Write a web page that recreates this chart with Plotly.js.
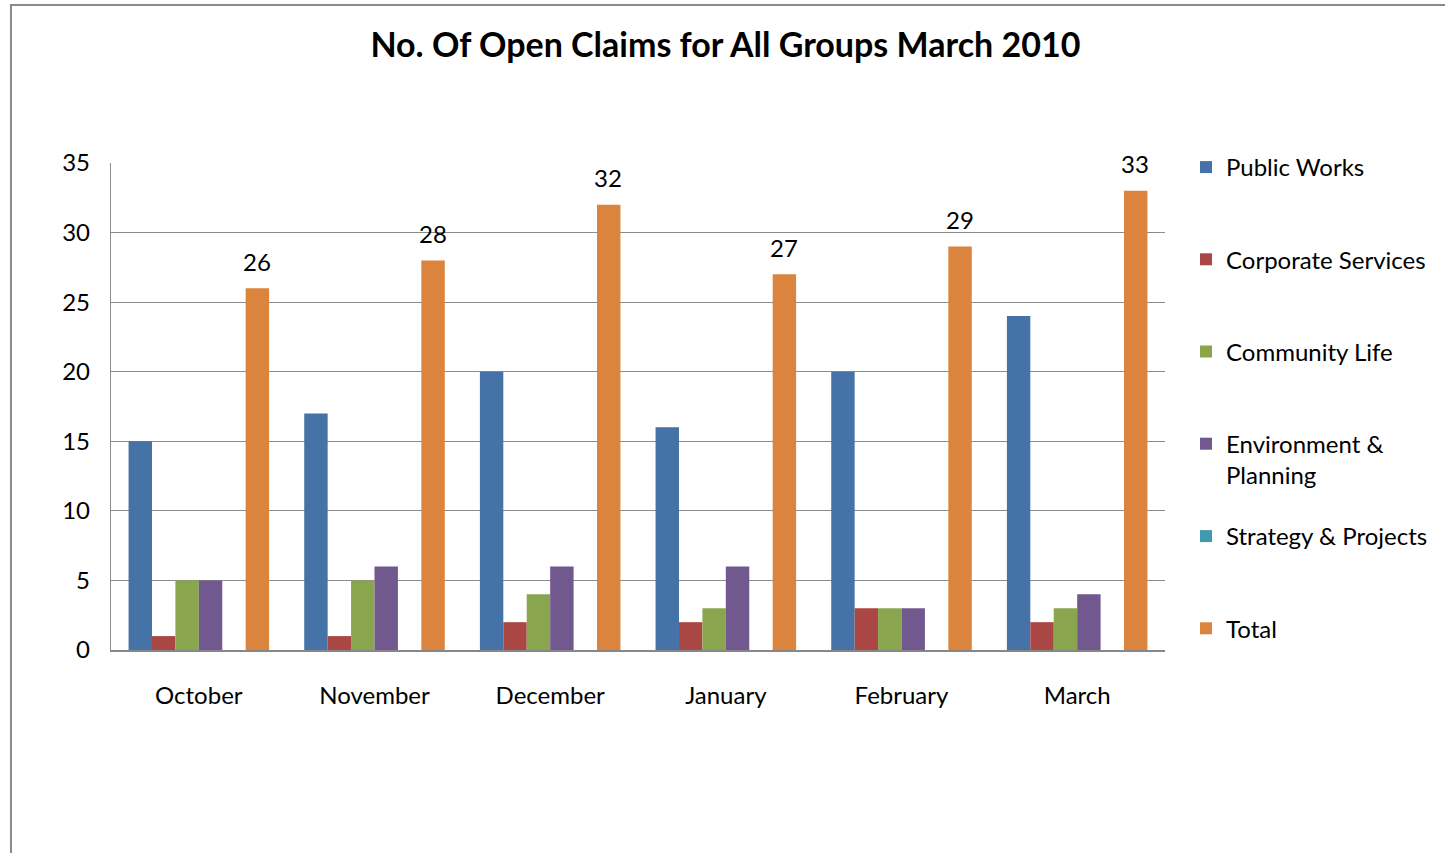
<!DOCTYPE html>
<html>
<head>
<meta charset="utf-8">
<script src="https://cdn.plot.ly/plotly-3.0.1.min.js"></script>
<style>
html,body{margin:0;padding:0;background:#fff;}
#chart{width:1445px;height:853px;}
</style>
</head>
<body>
<div id="chart"></div>
<script>
const months = ["October", "November", "December", "January", "February", "March"];
const publicWorks = [15, 17, 20, 16, 20, 24];
const corporateServices = [1, 1, 2, 2, 3, 2];
const communityLife = [5, 5, 4, 3, 3, 3];
const environmentPlanning = [5, 6, 6, 6, 3, 4];
const strategyProjects = [0, 0, 0, 0, 0, 0];
const totals = [26, 28, 32, 27, 29, 33];
const yTicks = [0, 5, 10, 15, 20, 25, 30, 35];

const FONT = "Lato, 'Open Sans', sans-serif";
const series = [
  {name: "Public Works", y: publicWorks, color: "#4572A7", legend: "legend"},
  {name: "Corporate Services", y: corporateServices, color: "#AA4643", legend: "legend"},
  {name: "Community Life", y: communityLife, color: "#89A54E", legend: "legend"},
  {name: "Environment &<br>Planning", y: environmentPlanning, color: "#71588F", legend: "legend"},
  {name: "Strategy & Projects", y: strategyProjects, color: "#4198AF", legend: "legend2"},
  {name: "Total", y: totals, color: "#DB843D", legend: "legend2"}
];

const traces = series.map((s, i) => ({
  type: "bar",
  name: s.name,
  x: months,
  y: s.y,
  marker: {color: s.color, line: {width: 0}},
  legend: s.legend,
  legendgroup: "g" + i,
  hoverinfo: "skip"
}));

// Total value labels, placed through the data scales (the total bar is the 6th of 6 in each group)
const totalLabels = months.map((m, i) => ({
  x: m, y: totals[i], xref: "x", yref: "y",
  text: String(totals[i]),
  showarrow: false,
  xshift: 58,
  yshift: 27,
  font: {family: FONT, size: 24, color: "#000"}
}));

const legendCommon = {
  xref: "container", yref: "container",
  xanchor: "left", yanchor: "top",
  font: {family: FONT, size: 24, color: "#000"},
  tracegroupgap: 58,
  valign: "top",
  bgcolor: "rgba(0,0,0,0)",
  itemclick: false, itemdoubleclick: false
};

const layout = {
  width: 1445,
  height: 853,
  paper_bgcolor: "#fff",
  plot_bgcolor: "#fff",
  font: {family: FONT, size: 24, color: "#000"},
  margin: {l: 111, r: 280, t: 163, b: 203, autoexpand: false},
  barmode: "group",
  bargap: 0.2,
  bargroupgap: 0,
  title: {
    text: "<b>No. Of Open Claims for All Groups March 2010</b>",
    font: {family: FONT, size: 34, color: "#000"},
    x: 0.502, xref: "container", xanchor: "center",
    y: 0.947, yref: "container", yanchor: "middle"
  },
  xaxis: {
    type: "category",
    showgrid: false,
    showline: true,
    linecolor: "#878787",
    linewidth: 1.5,
    ticks: "",
    ticklabelstandoff: 24,
    tickfont: {family: FONT, size: 24, color: "#000"},
    fixedrange: true
  },
  yaxis: {
    range: [0, 35],
    tickvals: yTicks,
    ticktext: yTicks.map(String),
    showgrid: true,
    gridcolor: "#8c8c8c",
    gridwidth: 1.2,
    showline: true,
    linecolor: "#8c8c8c",
    linewidth: 1.2,
    zeroline: false,
    ticks: "",
    ticklabelstandoff: 15,
    tickfont: {family: FONT, size: 24, color: "#000"},
    fixedrange: true
  },
  legend: Object.assign({}, legendCommon, {x: 1186 / 1445, y: 1 - 145 / 853}),
  legend2: Object.assign({}, legendCommon, {x: 1186 / 1445, y: 1 - 514 / 853}),
  showlegend: true,
  annotations: totalLabels,
  shapes: [{
    type: "rect", xref: "paper", yref: "paper",
    x0: -0.0949, x1: 1.3, y0: -0.45, y1: 1.3244,
    line: {color: "#8a8a8a", width: 2},
    fillcolor: "rgba(0,0,0,0)",
    layer: "below"
  }]
};

Plotly.newPlot("chart", traces, layout, {displayModeBar: false, staticPlot: true});
</script>
</body>
</html>
